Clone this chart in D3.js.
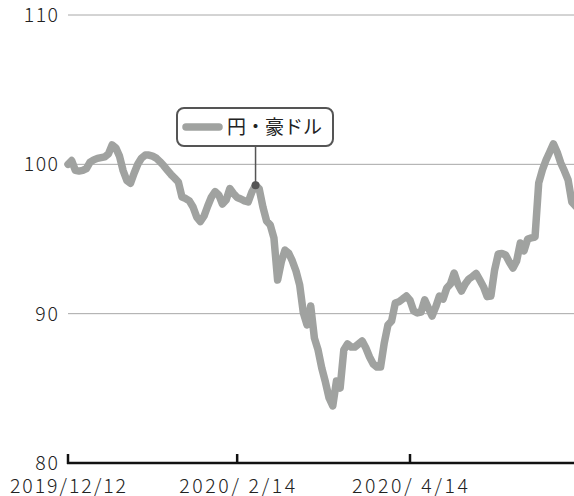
<!DOCTYPE html>
<html>
<head>
<meta charset="utf-8">
<script src="https://cdn.jsdelivr.net/npm/d3@7"></script>
<style>
  body { margin: 0; background: #fff; }
  svg text { font-family: "Noto Sans CJK JP", "Noto Sans", sans-serif; fill: #222; }
  .num { font-weight: 300; font-feature-settings: "tnum"; }
</style>
</head>
<body>
<svg width="574" height="496"></svg>
<script>
// trading day number (0 = 2019/12/12) and index value
var days = [];
for (var i = 0; i <= 138; i++) days.push(i);
var values = [
  100.0, 100.25, 99.6, 99.55, 99.6, 99.72, 100.15, 100.3, 100.4, 100.45,
  100.5, 100.7, 101.3, 101.1, 100.55, 99.57, 98.92, 98.73, 99.42, 100.02,
  100.42, 100.62, 100.62, 100.55, 100.42, 100.18, 99.92, 99.62, 99.32, 99.08,
  98.82, 97.81, 97.71, 97.55, 97.14, 96.47, 96.17, 96.54, 97.21, 97.81,
  98.17, 97.95, 97.34, 97.61, 98.38, 98.05, 97.78, 97.68, 97.55, 97.48,
  98.15, 98.6, 98.35, 97.14, 96.21, 95.94, 95.07, 92.25, 93.46, 94.26,
  94.06, 93.53, 92.86, 91.92, 90.05, 89.24, 90.51, 88.37, 87.57, 86.36,
  85.42, 84.35, 83.82, 85.49, 85.02, 87.57, 87.97, 87.77, 87.77, 87.97,
  88.17, 87.7, 87.1, 86.63, 86.43, 86.43, 88.04, 89.24, 89.51, 90.71,
  90.8, 90.98, 91.18, 90.9, 90.18, 90.05, 90.1, 90.92, 90.38, 89.84,
  90.45, 91.18, 90.98, 91.72, 91.99, 92.72, 91.99, 91.52, 91.99, 92.32,
  92.49, 92.69, 92.25, 91.79, 91.14, 91.18, 92.92, 94.0, 94.03, 93.93,
  93.46, 93.06, 93.53, 94.73, 94.2, 95.0, 95.07, 95.13, 98.75, 99.62,
  100.29, 100.83, 101.37, 100.83, 100.09, 99.55, 98.95, 97.48, 97.2
];
var yTicks = [80, 90, 100, 110];
var xTickDays = [0, 46, 93];
var xTickLabels = ["2019/12/12", "2020/ 2/14", "2020/ 4/14"];
var seriesName = "円・豪ドル";
var markDay = 51;

var svg = d3.select("svg"),
    width = +svg.attr("width"),
    charW = 11.4; // width of one digit in the labels

var x = d3.scaleLinear().domain([0, 93]).range([68, 410]),
    y = d3.scaleLinear().domain([80, 110]).range([463, 15]);

// grid + y labels
var grid = svg.append("g");
grid.selectAll("line")
    .data(yTicks.slice(1))
    .enter().append("line")
    .attr("x1", 68)
    .attr("x2", width)
    .attr("y1", function(d) { return y(d); })
    .attr("y2", function(d) { return y(d); })
    .attr("stroke", "#a8a8a8")
    .attr("stroke-width", 1);

grid.selectAll("text")
    .data(yTicks)
    .enter().append("text")
    .attr("class", "num")
    .attr("x", 58)
    .attr("y", function(d) { return y(d); })
    .attr("dy", "0.36em")
    .attr("text-anchor", "end")
    .attr("textLength", function(d) { return String(d).length * charW; })
    .attr("lengthAdjust", "spacing")
    .style("font-size", "19.5px")
    .text(function(d) { return d; });

// line
var line = d3.line()
    .x(function(d, i) { return x(days[i]); })
    .y(function(d) { return y(d); });

svg.append("path")
    .datum(values)
    .attr("d", line)
    .attr("fill", "none")
    .attr("stroke", "#a0a2a0")
    .attr("stroke-width", 7.5)
    .attr("stroke-linejoin", "round")
    .attr("stroke-linecap", "round");

// x axis
var xAxis = svg.append("g");
xAxis.append("line")
    .attr("x1", 67)
    .attr("x2", width)
    .attr("y1", 463)
    .attr("y2", 463)
    .attr("stroke", "#111")
    .attr("stroke-width", 2.5);

xAxis.selectAll(".tick")
    .data(xTickDays)
    .enter().append("line")
    .attr("x1", function(d) { return x(d); })
    .attr("x2", function(d) { return x(d); })
    .attr("y1", 454)
    .attr("y2", 464)
    .attr("stroke", "#111")
    .attr("stroke-width", 2.5);

xAxis.selectAll("text")
    .data(xTickDays)
    .enter().append("text")
    .attr("class", "num")
    .attr("x", function(d) { return x(d); })
    .attr("y", 493)
    .attr("text-anchor", "middle")
    .attr("textLength", function(d, i) { return xTickLabels[i].length * charW + 2; })
    .attr("lengthAdjust", "spacing")
    .style("font-size", "19.5px")
    .attr("xml:space", "preserve")
    .style("white-space", "pre")
    .text(function(d, i) { return xTickLabels[i]; });

// legend callout
var mx = x(markDay), my = y(values[markDay]);
svg.append("line")
    .attr("x1", mx).attr("x2", mx)
    .attr("y1", 146).attr("y2", my)
    .attr("stroke", "#555")
    .attr("stroke-width", 1.5);
svg.append("circle")
    .attr("cx", mx).attr("cy", my)
    .attr("r", 4)
    .attr("fill", "#555");

var lg = svg.append("g");
lg.append("rect")
    .attr("x", 177).attr("y", 108)
    .attr("width", 156).attr("height", 38)
    .attr("rx", 7)
    .attr("fill", "#fff")
    .attr("stroke", "#555")
    .attr("stroke-width", 2);
lg.append("line")
    .attr("x1", 186).attr("x2", 219)
    .attr("y1", 127).attr("y2", 127)
    .attr("stroke", "#a0a2a0")
    .attr("stroke-width", 7.5)
    .attr("stroke-linecap", "round");
lg.append("text")
    .attr("x", 227).attr("y", 127)
    .attr("dy", "0.36em")
    .style("font-size", "19px")
    .text(seriesName);
</script>
</body>
</html>
